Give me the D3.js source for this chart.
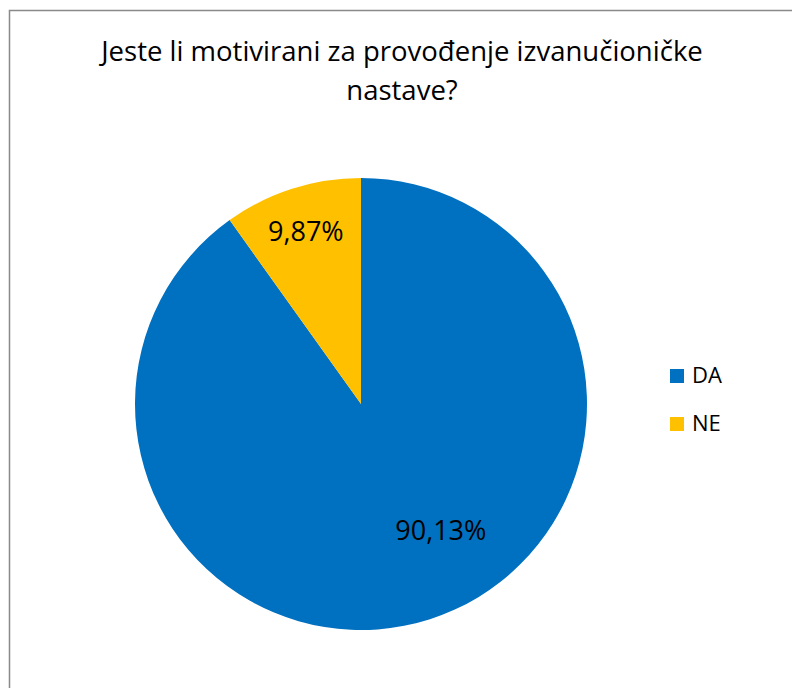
<!DOCTYPE html>
<html>
<head>
<meta charset="utf-8">
<script src="https://cdn.jsdelivr.net/npm/d3@7"></script>
<style>
  body { margin: 0; background: #fff; }
  text { font-family: "Open Sans", "Noto Sans", sans-serif; fill: #000; }
</style>
</head>
<body>
<svg id="chart" width="792" height="688"></svg>
<script>
"use strict";

// Data
var categories = ["DA", "NE"];
var shares = [90.13, 9.87];
var labels = ["90,13%", "9,87%"];
var colours = ["#0070C0", "#FFC000"];
var titleLines = ["Jeste li motivirani za provođenje izvanučioničke", "nastave?"];

window.onload = function() {
  var svg = d3.select("#chart");
  var cx = 361, cy = 404, r = 226;

  // frame (only left and top edges are inside the picture)
  svg.append("rect")
     .attr("x", 9.5).attr("y", 10.5)
     .attr("width", 900).attr("height", 900)
     .attr("fill", "none")
     .attr("stroke", "#898989")
     .attr("stroke-width", 1.5);

  // title, sized to match the reference line width
  var title = svg.append("text")
     .attr("text-anchor", "middle")
     .attr("font-size", 26);
  titleLines.forEach(function(t, i) {
    title.append("tspan").attr("x", 402).attr("y", 61 + i * 39).text(t);
  });
  var w = title.select("tspan").node().getComputedTextLength();
  title.attr("font-size", 26 * 602 / w);

  // pie
  var pie = d3.pie().sort(null).value(function(d) { return d; });
  var arc = d3.arc().innerRadius(0).outerRadius(r);
  var arcs = pie(shares);

  var g = svg.append("g").attr("transform", "translate(" + cx + "," + cy + ")");
  g.selectAll("path")
   .data(arcs)
   .enter().append("path")
   .attr("d", arc)
   .attr("fill", function(d, i) { return colours[i]; });

  // labels: placed along an angle/radius per slice like Excel best fit
  var labelAngleShift = [-0.25, 0];
  var labelRadius = [0.665, 0.8];
  g.selectAll("text.lbl")
   .data(arcs)
   .enter().append("text")
   .attr("class", "lbl")
   .attr("text-anchor", "middle")
   .attr("font-size", 27)
   .attr("x", function(d, i) {
     var a = (d.startAngle + d.endAngle) / 2 + labelAngleShift[i];
     return Math.sin(a) * r * labelRadius[i];
   })
   .attr("y", function(d, i) {
     var a = (d.startAngle + d.endAngle) / 2 + labelAngleShift[i];
     return -Math.cos(a) * r * labelRadius[i] + 9;
   })
   .text(function(d, i) { return labels[i]; });

  // legend
  var legend = svg.append("g").attr("transform", "translate(670,369)");
  var items = legend.selectAll("g")
     .data(categories)
     .enter().append("g")
     .attr("transform", function(d, i) { return "translate(0," + (i * 48) + ")"; });
  items.append("rect")
     .attr("width", 14).attr("height", 14)
     .attr("fill", function(d, i) { return colours[i]; });
  items.append("text")
     .attr("x", 22).attr("y", 14)
     .attr("font-size", 22)
     .text(function(d) { return d; });
};
</script>
</body>
</html>
